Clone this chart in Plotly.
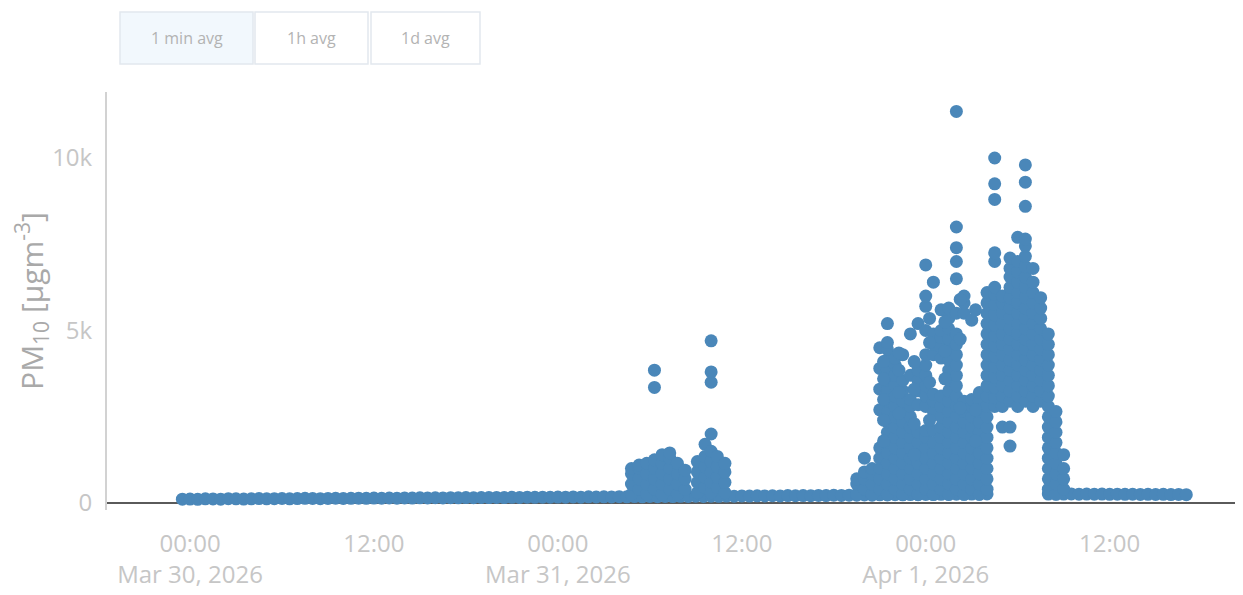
import pandas as pd
import plotly.graph_objects as go

# ---- data ----
baseline_start = "2026-03-29 23:30"   # 30-min grid of the low background level
baseline_values = [
    110, 115, 105, 120, 118, 112, 125, 120, 115, 122, 128, 120,
    125, 130, 122, 128, 135, 130, 126, 132, 138, 130, 135, 140,
    136, 142, 138, 145, 140, 148, 144, 150, 146, 152, 148, 155,
    150, 158, 152, 160, 156, 162, 158, 165, 160, 168, 164, 170,
    166, 172, 168, 175, 170, 178, 174, 180, 176, 182, 178, 185,
    180, 188, 184, 190, 186, 192, 188, 195, 190, 198, 194, 200,
    196, 204, 200, 208, 204, 210, 206, 214, 210, 216, 212, 220,
    216, 224, 220, 228, 224, 232, 228, 236, 232, 240, 236, 244,
    240, 248, 244, 252, 248, 256, 252, 260, 256, 264, None, None,
    None, None, None, None, None, 260, 264, 258, 262, 256, 260, 254,
    258, 252, 256, 250, 254, 248, 252, 246, 250, 244, 248, 242,
]

burst_origin = "2026-03-30 00:00"
# hours after burst_origin, and the PM10 readings seen at that time
burst_hours = [
    28.8, 29.3, 29.8, 30.3, 30.8, 31.3, 31.8, 32.3,
    33.1, 33.6, 34.0, 34.4, 34.9,
    43.5, 44.0, 44.5, 45.0, 45.5, 46.0, 46.5, 47.0, 47.5, 48.0,
    48.5, 49.0, 49.5, 50.0, 50.5, 51.0, 51.5, 52.0, 52.5, 53.0,
    53.5, 54.0, 54.5, 55.0, 55.5, 56.0, 56.5, 57.0,
    45.25, 46.25, 47.25, 48.25, 49.25, 50.25, 51.25,
]
burst_values = [
    [250, 550, 850, 1000],
    [400, 700, 1000, 1100],
    [250, 550, 850, 1150],
    [400, 700, 1000, 1250, 3350, 3850],
    [250, 550, 850, 1150, 1400],
    [400, 700, 1000, 1300, 1450],
    [250, 550, 850, 1150],
    [400, 700, 950],
    [300, 600, 900, 1200],
    [450, 750, 1050, 1350, 1700],
    [300, 600, 900, 1200, 1500, 2000, 3500, 3800, 4700],
    [450, 750, 1050, 1350],
    [300, 600, 900, 1150],
    [250, 550, 700],
    [400, 700, 900, 1300],
    [250, 550, 850, 1000],
    [400, 700, 1000, 1300, 1600, 2700, 3300, 3900, 4500],
    [250, 550, 850, 1150, 1450, 1750, 2050, 2350, 2650, 2950, 3250, 3550, 3850, 4150, 4450, 4650, 5200],
    [400, 700, 1000, 1300, 1600, 1900, 2200, 2500, 2800, 3100, 3400, 3700, 4000, 4200],
    [250, 550, 850, 1150, 1450, 1750, 2050, 2350, 2650, 2950, 3250, 3550, 4300],
    [400, 700, 1000, 1300, 1600, 1900, 2200, 2500, 2800, 3000, 3700, 4900],
    [250, 550, 850, 1150, 1450, 1750, 2050, 2850, 3250, 3550, 3850, 5200],
    [400, 700, 1000, 1300, 1600, 1900, 2100, 2800, 3100, 3400, 3700, 4000, 4300, 5000, 5700, 6000, 6900],
    [250, 550, 850, 1150, 1450, 1750, 2100, 2650, 2950, 3150, 4300, 4600, 4900, 6400],
    [400, 700, 1000, 1300, 1600, 1900, 2200, 2500, 2800, 3100, 4200, 4500, 4800, 5000, 5600],
    [250, 550, 850, 1150, 1450, 1750, 2050, 2350, 2650, 2950, 3250, 3550, 3850, 4150, 4450, 4750, 5050, 5350, 5650],
    [400, 700, 1000, 1300, 1600, 1900, 2200, 2500, 2800, 3100, 3400, 3700, 4000, 4300, 4600, 4900, 5500, 6500, 7000, 7400, 8000, 11350],
    [250, 550, 850, 1150, 1450, 1750, 2050, 2350, 2650, 2950, 5500, 5800, 6000],
    [400, 700, 1000, 1300, 1600, 1900, 2200, 2500, 2800, 3000, 5300],
    [250, 550, 850, 1150, 1450, 1750, 2050, 2350, 2650, 2950, 3200],
    [400, 700, 1000, 1300, 1600, 1900, 2200, 2500, 2800, 3100, 3400, 3700, 4000, 4300, 4600, 4900, 5200, 5500, 5800, 6100],
    [2800, 3050, 3350, 3650, 3950, 4250, 4550, 4850, 5150, 5450, 5750, 6050, 6250, 7000, 7250, 8800, 9250, 10000],
    [2200, 2800, 3100, 3400, 3700, 4000, 4300, 4600, 4900, 5200, 5500, 5800, 6000],
    [1650, 2200, 2950, 3250, 3550, 3850, 4150, 4450, 4750, 5050, 5350, 5650, 5950, 6250, 6550, 6800, 7100],
    [2800, 3100, 3400, 3700, 4000, 4300, 4600, 4900, 5200, 5500, 5800, 6100, 6400, 6700, 7000, 7700],
    [2950, 3250, 3550, 3850, 4150, 4450, 4750, 5050, 5350, 5650, 5950, 6250, 6550, 6850, 7150, 7450, 7650, 8600, 9300, 9800],
    [2800, 3100, 3400, 3700, 4000, 4300, 4600, 4900, 5200, 5500, 5800, 6100, 6400, 6800],
    [2950, 3250, 3550, 3850, 4150, 4450, 4750, 5050, 5350, 5650, 5950],
    [400, 700, 1000, 1300, 1600, 1900, 2200, 2500, 2800, 3100, 3400, 3700, 4000, 4300, 4600, 4900],
    [250, 550, 850, 1150, 1450, 1750, 2050, 2350, 2650],
    [400, 700, 1000, 1400],
    [1800, 2400, 3000, 3600, 4100],
    [2600, 3200, 3850, 4350],
    [1400, 2300, 3300, 4100],
    [2400, 3500, 4650, 5350],
    [3600, 4400, 5250],
    [2750, 4750, 5900],
    [1800, 2700, 5600],
]

button_labels = ["1 min avg", "1h avg", "1d avg"]
active_button = 0
y_title = "PM<sub>10</sub> [μgm<sup>-3</sup>]"

# ---- build ----
base_t = pd.date_range(baseline_start, periods=len(baseline_values), freq="30min")
origin = pd.Timestamp(burst_origin)
bx, by = [], []
for h, vals in zip(burst_hours, burst_values):
    for v in vals:
        bx.append(origin + pd.Timedelta(hours=h))
        by.append(v)

color = "#4a87b9"
fig = go.Figure()
fig.add_trace(go.Scatter(x=base_t, y=baseline_values, mode="markers",
                         marker=dict(size=13, color=color), showlegend=False))
fig.add_trace(go.Scatter(x=bx, y=by, mode="markers",
                         marker=dict(size=13, color=color), showlegend=False))

# page has an 8px body margin; plot area wanted at x 107..1243, y 92..510
W, H = 1235, 587
ML, MT, MB = 99, 84, 85
PW, PH = W - ML, H - MT - MB


def px_x(px):   # page pixel -> paper x
    return (px - 8 - ML) / PW


def px_y(py):   # page pixel -> paper y
    return (H - MB - (py - 8)) / PH


# range-selector buttons drawn as boxes + labels
btn_edges = [(120, 253), (255, 368), (371, 480)]
shapes, annos = [], []
for i, ((x0, x1), lab) in enumerate(zip(btn_edges, button_labels)):
    shapes.append(dict(type="rect", xref="paper", yref="paper",
                       x0=px_x(x0), x1=px_x(x1), y0=px_y(64), y1=px_y(12),
                       fillcolor="#f2f8fd" if i == active_button else "white",
                       line=dict(color="#e2e8ee", width=1.5), layer="above"))
    annos.append(dict(xref="paper", yref="paper", x=px_x((x0 + x1) / 2), y=px_y(38),
                      text=lab, showarrow=False, xanchor="center", yanchor="middle",
                      font=dict(size=16, color="#b3b3b3",
                                family="Open Sans, Verdana, Arial, sans-serif")))

font_family = "Open Sans, Verdana, Arial, sans-serif"
fig.update_layout(
    width=W, height=H,
    margin=dict(l=ML, r=0, t=MT, b=MB, autoexpand=False),
    paper_bgcolor="white", plot_bgcolor="white",
    font=dict(family=font_family, color="#bdbdbd"),
    shapes=shapes, annotations=annos,
    xaxis=dict(
        type="date",
        range=["2026-03-29 18:35", "2026-04-01 20:42"],
        tick0="2026-03-30 00:00", dtick=12 * 3600 * 1000,
        showgrid=False, zeroline=False, showline=False, ticks="",
        tickfont=dict(size=24, color="#c6c6c6", family=font_family),
        ticklabelstandoff=17,
    ),
    yaxis=dict(
        range=[-203, 11913],
        tick0=0, dtick=5000, tickformat="~s",
        showgrid=False,
        zeroline=True, zerolinecolor="#5a5a5a", zerolinewidth=2,
        showline=True, linecolor="#d2d2d2", linewidth=2,
        ticks="",
        tickfont=dict(size=24, color="#c6c6c6", family=font_family),
        ticklabelstandoff=8,
        title=dict(text=y_title, font=dict(size=30, color="#a9a9a9", family=font_family),
                   standoff=2),
    ),
)

fig.write_html("out.html")
